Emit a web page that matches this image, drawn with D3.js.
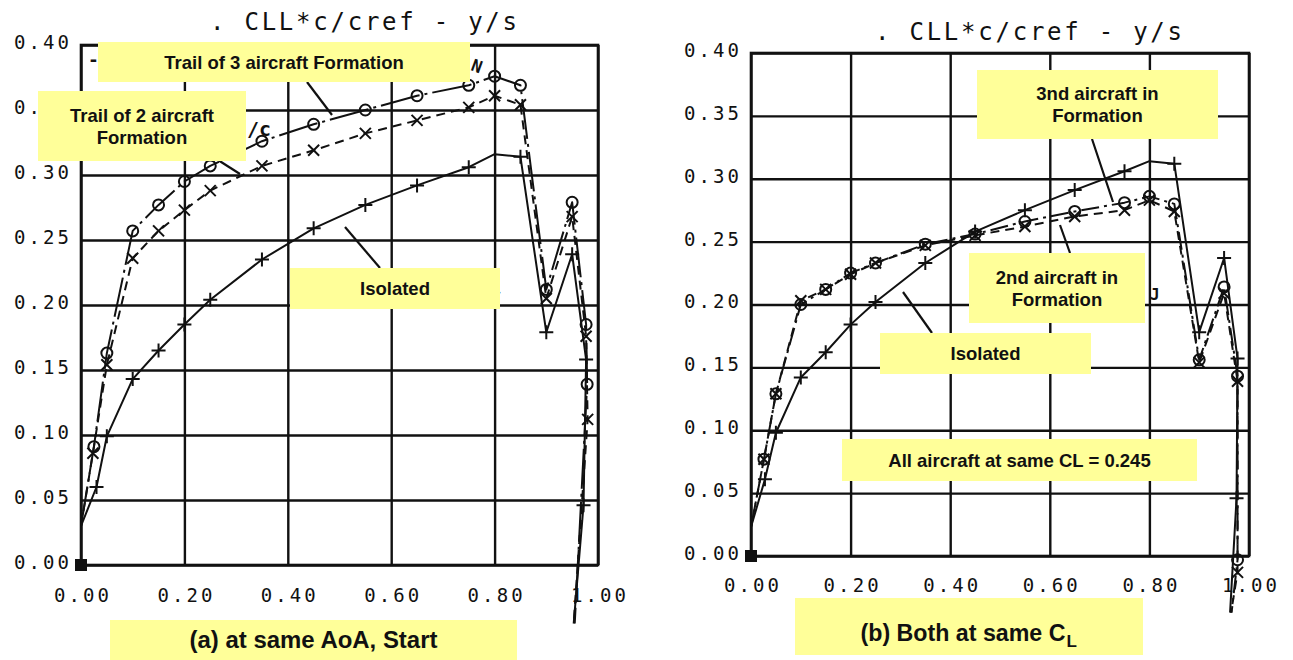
<!DOCTYPE html>
<html>
<head>
<meta charset="utf-8">
<script src="https://cdn.jsdelivr.net/npm/d3@7"></script>
<style>
  body { margin: 0; background: #fff; }
  svg { display: block; }
</style>
</head>
<body>
<svg id="chart"></svg>
<script>
// spanwise load  CLL*c/cref  vs  y/s   -- [y/s, value, marker?]
var yTicks = [0.00, 0.05, 0.10, 0.15, 0.20, 0.25, 0.30, 0.35, 0.40];
var xTicks = [0.00, 0.20, 0.40, 0.60, 0.80, 1.00];
var plotTitle = ". CLL*c/cref - y/s";

// (a) same AoA
var aIsolated = [[0,0.03,0],[0.03,0.060,1],[0.05,0.099,1],[0.10,0.143,1],[0.15,0.165,1],[0.20,0.185,1],[0.25,0.204,1],
  [0.35,0.235,1],[0.45,0.259,1],[0.55,0.277,1],[0.65,0.292,1],[0.75,0.306,1],[0.80,0.316,0],[0.85,0.314,1],
  [0.90,0.179,1],[0.95,0.239,1],[0.977,0.158,1],[0.972,0.046,1],[0.953,-0.045,0]];
var aTrail3 = [[0,0.03,0],[0.025,0.091,1],[0.05,0.163,1],[0.10,0.257,1],[0.15,0.277,1],[0.20,0.295,1],[0.25,0.307,1],
  [0.35,0.326,1],[0.45,0.339,1],[0.55,0.350,1],[0.65,0.361,1],[0.75,0.369,1],[0.80,0.376,1],[0.85,0.369,1],
  [0.90,0.212,1],[0.95,0.279,1],[0.977,0.185,1],[0.979,0.139,1],[0.955,-0.045,0]];
var aTrail2 = [[0,0.03,0],[0.023,0.086,1],[0.05,0.154,1],[0.10,0.236,1],[0.15,0.257,1],[0.20,0.273,1],[0.25,0.288,1],
  [0.35,0.307,1],[0.45,0.319,1],[0.55,0.332,1],[0.65,0.342,1],[0.75,0.352,1],[0.80,0.361,1],[0.85,0.354,1],
  [0.90,0.205,1],[0.95,0.268,1],[0.977,0.176,1],[0.980,0.112,1],[0.953,-0.045,0]];

// (b) same CL
var bIsolated = [[0,0.023,0],[0.028,0.061,1],[0.05,0.098,1],[0.10,0.142,1],[0.15,0.162,1],[0.20,0.184,1],[0.25,0.202,1],
  [0.35,0.233,1],[0.45,0.258,1],[0.55,0.275,1],[0.65,0.291,1],[0.75,0.306,1],[0.80,0.314,0],[0.85,0.312,1],
  [0.90,0.178,1],[0.95,0.237,1],[0.977,0.157,1],[0.975,0.046,1],[0.962,-0.045,0]];
var b3rd = [[0,0.023,0],[0.026,0.077,1],[0.05,0.129,1],[0.10,0.200,1],[0.15,0.212,1],[0.20,0.225,1],[0.25,0.233,1],
  [0.35,0.248,1],[0.45,0.256,1],[0.55,0.266,1],[0.65,0.274,1],[0.75,0.281,1],[0.80,0.286,1],[0.85,0.280,1],
  [0.90,0.156,1],[0.95,0.214,1],[0.977,0.143,1],[0.977,-0.003,1],[0.965,-0.045,0]];
var b2nd = [[0,0.023,0],[0.026,0.077,1],[0.05,0.129,1],[0.10,0.203,1],[0.15,0.212,1],[0.20,0.224,1],[0.25,0.233,1],
  [0.35,0.247,1],[0.45,0.255,1],[0.55,0.262,1],[0.65,0.270,1],[0.75,0.275,1],[0.80,0.283,1],[0.85,0.274,1],
  [0.90,0.154,1],[0.95,0.209,1],[0.977,0.139,1],[0.977,-0.013,1],[0.964,-0.045,0]];

var W = 1293, H = 660;
var ink = "#111";
var boxFill = "#ffff99";
var monoFont = "'DejaVu Sans Mono', monospace";
var boldFont = "'Liberation Sans', Arial, sans-serif";
var narrowFont = "'Liberation Sans Narrow', 'Arial Narrow', 'Liberation Sans', sans-serif";

var svg = d3.select("#chart").attr("width", W).attr("height", H);
svg.append("rect").attr("width", W).attr("height", H).attr("fill", "#fff");

var markerPath = {
  plus: "M-7,0H7M0,-7V7",
  cross: "M-5.5,-5.5L5.5,5.5M-5.5,5.5L5.5,-5.5",
  circle: "M5.5,0A5.5,5.5 0 1,1 -5.5,0A5.5,5.5 0 1,1 5.5,0"
};

function drawPanel(p){
  var x = d3.scaleLinear().domain([0, 1]).range([p.left, p.right]);
  var y = d3.scaleLinear().domain([0, 0.4]).range([p.bottom, p.top]);
  var g = svg.append("g");

  var yAxis = d3.axisLeft(y).tickValues(yTicks).tickFormat(d3.format(".2f"))
    .tickSizeInner(-(p.right - p.left)).tickSizeOuter(0).tickPadding(12);
  var xAxis = d3.axisBottom(x).tickValues(xTicks).tickFormat(d3.format(".2f"))
    .tickSizeInner(-(p.bottom - p.top)).tickSizeOuter(0).tickPadding(p.xPad);

  var ya = g.append("g").attr("transform", "translate(" + p.left + ",0)").call(yAxis);
  var xa = g.append("g").attr("transform", "translate(0," + p.bottom + ")").call(xAxis);
  [ya, xa].forEach(function(a){
    a.select(".domain").remove();
    a.selectAll(".tick line").attr("stroke", ink).attr("stroke-width", 2.4);
    a.selectAll(".tick text").attr("fill", ink).attr("font-family", monoFont)
      .attr("font-size", 19).attr("textLength", 55).attr("lengthAdjust", "spacing");
  });
  ya.selectAll(".tick text").attr("dy", "0.18em");

  g.append("rect").attr("x", p.left).attr("y", p.top)
    .attr("width", p.right - p.left).attr("height", p.bottom - p.top)
    .attr("fill", "none").attr("stroke", ink).attr("stroke-width", 2.6);

  g.append("text").attr("x", p.titleX).attr("y", p.titleY)
    .attr("font-family", monoFont).attr("font-size", 24).attr("fill", ink)
    .attr("textLength", 307).attr("lengthAdjust", "spacing")
    .text(plotTitle);

  var line = d3.line().x(function(d){ return x(d[0]); }).y(function(d){ return y(d[1]); });

  p.series.forEach(function(s){
    g.append("path").datum(s.data).attr("d", line)
      .attr("fill", "none").attr("stroke", ink).attr("stroke-width", 2)
      .attr("stroke-dasharray", s.dash).attr("stroke-linejoin", "round");
    g.selectAll(null).data(s.data.filter(function(d){ return d[2]; })).enter()
      .append("path")
      .attr("transform", function(d){ return "translate(" + x(d[0]) + "," + y(d[1]) + ")"; })
      .attr("d", markerPath[s.marker])
      .attr("fill", "none").attr("stroke", ink).attr("stroke-width", 2);
  });

  g.append("rect").attr("x", x(0) - 6).attr("y", y(0) - 6).attr("width", 12).attr("height", 12)
    .attr("fill", ink);

  return g;
}

function note(lines, bx, by, bw, bh, size, font, lineGap){
  var g = svg.append("g");
  g.append("rect").attr("x", bx).attr("y", by).attr("width", bw).attr("height", bh).attr("fill", boxFill);
  var n = lines.length;
  lines.forEach(function(t, i){
    g.append("text").attr("x", bx + bw / 2)
      .attr("y", by + bh / 2 + (i - (n - 1) / 2) * lineGap)
      .attr("dy", "0.36em").attr("text-anchor", "middle")
      .attr("font-family", font || boldFont).attr("font-weight", "bold")
      .attr("font-size", size).attr("fill", "#111").text(t);
  });
  return g;
}

// scale a text's font size so its natural width matches the target
function fitWidth(sel, target){
  var fs = +sel.attr("font-size");
  var w = sel.node().getComputedTextLength();
  if (w > 0) sel.attr("font-size", (fs * target / w).toFixed(2));
  return sel.node().getComputedTextLength();
}

function pointer(x1, y1, x2, y2){
  svg.append("line").attr("x1", x1).attr("y1", y1).attr("x2", x2).attr("y2", y2)
    .attr("stroke", ink).attr("stroke-width", 2.2);
}

function residue(t, px, py, size, rot){
  svg.append("text").attr("x", px).attr("y", py).attr("font-family", monoFont)
    .attr("font-size", size).attr("font-weight", "bold").attr("fill", ink)
    .attr("transform", rot ? "rotate(" + rot + "," + px + "," + py + ")" : null).text(t);
}

drawPanel({
  left: 81, right: 598, top: 45, bottom: 565, xPad: 24,
  titleX: 210, titleY: 30,
  series: [
    {data: aIsolated, marker: "plus", dash: null},
    {data: aTrail2, marker: "cross", dash: "9,6"},
    {data: aTrail3, marker: "circle", dash: "40,5,3,5"}
  ]
});

drawPanel({
  left: 751, right: 1249, top: 53, bottom: 556, xPad: 23,
  titleX: 875, titleY: 40,
  series: [
    {data: bIsolated, marker: "plus", dash: null},
    {data: b2nd, marker: "cross", dash: "9,6"},
    {data: b3rd, marker: "circle", dash: "18,5,3,5"}
  ]
});

// leftovers of the original legend peeking out
residue("-", 88, 66, 18);
residue("N", 470, 70, 17, 20);
residue("/c", 247, 136, 20);
residue("-", 497, 298, 12, -30);
residue("J", 1150, 300, 16);

// pointers
pointer(307, 82, 332, 115);
pointer(218, 160, 240, 174);
pointer(345, 227, 380, 268);
pointer(1092, 139, 1113, 202);
pointer(1060, 225, 1070, 253);
pointer(903, 292, 932, 333);

// annotations
note(["Trail of 3 aircraft Formation"], 98, 42, 372, 40, 18.5, null, 0);
note(["Trail of 2 aircraft", "Formation"], 38, 91, 208, 70, 18.5, null, 22);
note(["Isolated"], 290, 268, 210, 41, 18.5, null, 0);
note(["3nd aircraft in", "Formation"], 977, 70, 241, 69, 18.5, null, 22);
note(["2nd aircraft in", "Formation"], 969, 253, 176, 70, 18.5, null, 22);
note(["Isolated"], 880, 333, 211, 41, 18.5, null, 0);
note(["All aircraft at same CL = 0.245"], 842, 439, 355, 42, 18.5, null, 0);

// captions
var capA = note(["(a) at same AoA, Start"], 110, 620, 407, 42, 24, narrowFont, 0);
var capAText = capA.select("text").attr("dy", "0.30em");
fitWidth(capAText, 248);

var capB = svg.append("g");
capB.append("rect").attr("x", 795).attr("y", 598).attr("width", 348).attr("height", 57).attr("fill", boxFill);
var capBMain = capB.append("text").attr("y", 641)
  .attr("font-family", narrowFont).attr("font-weight", "bold").attr("font-size", 24).attr("fill", "#111")
  .text("(b) Both at same C");
var mainW = fitWidth(capBMain, 205);
var capBStart = 969 - (mainW + 12) / 2;
capBMain.attr("x", capBStart);
capB.append("text").attr("x", capBStart + mainW + 1).attr("y", 647)
  .attr("font-family", narrowFont).attr("font-weight", "bold").attr("font-size", 17).attr("fill", "#111")
  .text("L");
</script>
</body>
</html>
